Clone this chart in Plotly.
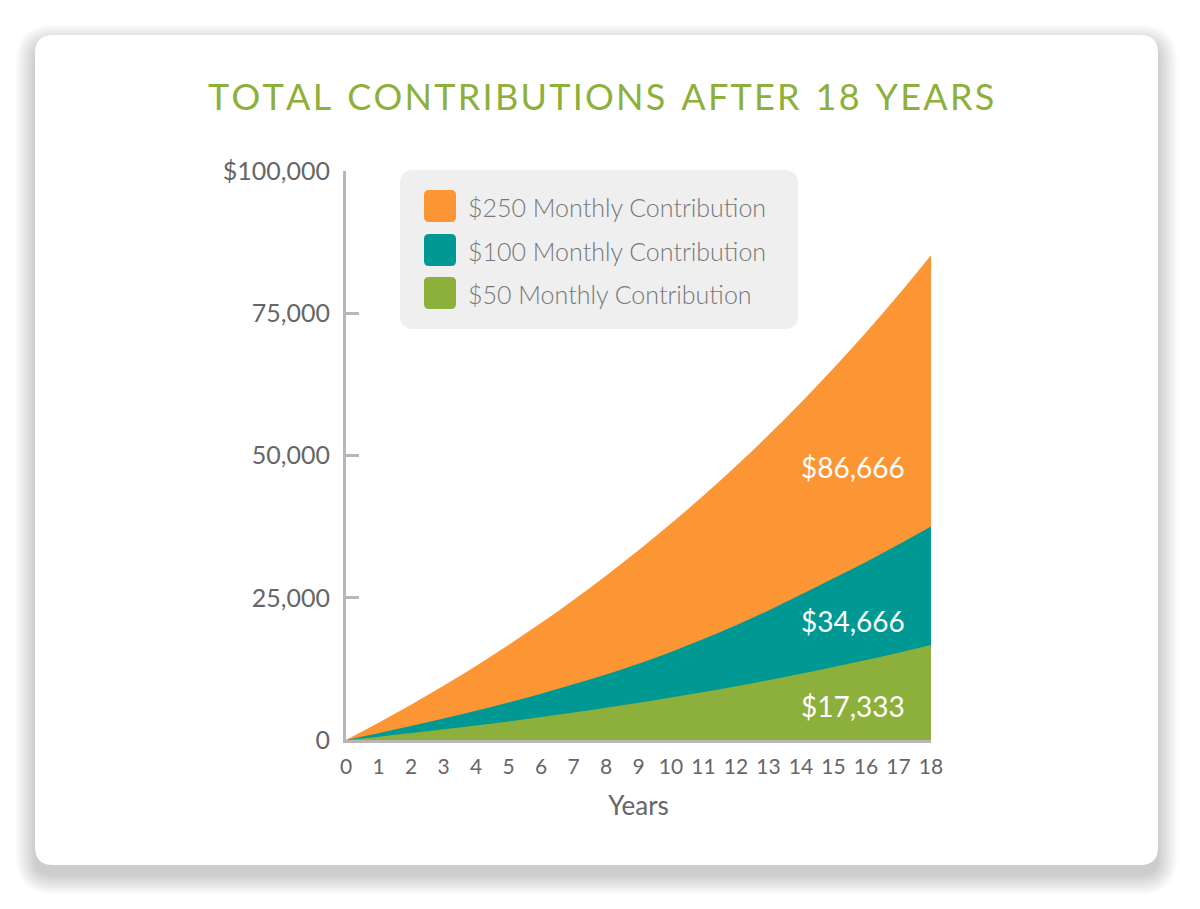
import plotly.graph_objects as go

years = list(range(0, 19))
orange_250 = [0, 3020, 6190, 9520, 13020, 16700, 20560, 24610, 28870, 33340,
              38040, 42970, 48150, 53600, 59320, 65320, 71630, 78250, 85200]
teal_100 = [0, 1190, 2440, 3760, 5140, 6600, 8140, 9780, 11520, 13420,
            15460, 17730, 20160, 22770, 25560, 28410, 31300, 34350, 37510]
green_50 = [0, 590, 1210, 1870, 2550, 3270, 4030, 4830, 5660, 6540,
            7460, 8430, 9440, 10510, 11630, 12810, 14050, 15350, 16710]
series_names = ["$250 Monthly Contribution", "$100 Monthly Contribution", "$50 Monthly Contribution"]
end_labels = ["$86,666", "$34,666", "$17,333"]
end_label_y = [48000, 21000, 6000]
y_tickvals = [0, 25000, 50000, 75000, 100000]
y_ticktext = ["0", "25,000", "50,000", "75,000", "$100,000"]
title_text = "TOTAL CONTRIBUTIONS AFTER 18 YEARS"

ORANGE = "#FC9634"
TEAL = "#009893"
GREEN = "#8DAF3B"
TITLE_GREEN = "#8DB03A"
AXIS_GRAY = "#b7b7b7"
TEXT_GRAY = "#666666"
FONT = "Lato"

W, H = 1200, 909
L, R, T, B = 346, 931, 171, 740  # plot area in px


def px(x):
    return (x - L) / (R - L)


def py(y):
    return (B - y) / (B - T)


def rrect(x0, y0, x1, y1, r):
    pts = [
        f"M{px(x0 + r)},{py(y0)}",
        f"L{px(x1 - r)},{py(y0)}",
        f"Q{px(x1)},{py(y0)} {px(x1)},{py(y0 + r)}",
        f"L{px(x1)},{py(y1 - r)}",
        f"Q{px(x1)},{py(y1)} {px(x1 - r)},{py(y1)}",
        f"L{px(x0 + r)},{py(y1)}",
        f"Q{px(x0)},{py(y1)} {px(x0)},{py(y1 - r)}",
        f"L{px(x0)},{py(y0 + r)}",
        f"Q{px(x0)},{py(y0)} {px(x0 + r)},{py(y0)}",
        "Z",
    ]
    return " ".join(pts)


fig = go.Figure()
for name, vals, col in [(series_names[0], orange_250, ORANGE),
                        (series_names[1], teal_100, TEAL),
                        (series_names[2], green_50, GREEN)]:
    fig.add_trace(go.Scatter(x=years, y=vals, name=name, mode="lines",
                             line=dict(width=0, color=col, shape="spline"),
                             fill="tozeroy", fillcolor=col, showlegend=False,
                             hoverinfo="x+y+name"))

shapes = []
# shadow layers
for i in range(10):
    e = 1 + i * 2.0
    shapes.append(dict(type="path", xref="paper", yref="paper", layer="below",
                       path=rrect(35 - e, 35 - e + 9, 1158 + e, 865 + e + 10, 18 + e),
                       fillcolor="rgba(0,0,0,0.018)", line=dict(width=0)))
# card
shapes.append(dict(type="path", xref="paper", yref="paper", layer="below",
                   path=rrect(35, 35, 1158, 865, 18), fillcolor="white",
                   line=dict(width=0)))
# legend box
shapes.append(dict(type="path", xref="paper", yref="paper", layer="below",
                   path=rrect(400, 170, 798, 329, 14), fillcolor="#efefef",
                   line=dict(width=0)))
leg_y = [206, 250, 293]
for yy, col in zip(leg_y, [ORANGE, TEAL, GREEN]):
    shapes.append(dict(type="path", xref="paper", yref="paper", layer="above",
                       path=rrect(424, yy - 16, 456, yy + 16, 5), fillcolor=col,
                       line=dict(width=0)))

annotations = []
for yy, name in zip(leg_y, series_names):
    annotations.append(dict(x=px(466), y=py(yy + 1), xref="paper", yref="paper",
                            xanchor="left", yanchor="middle", showarrow=False,
                            text=name, font=dict(family=FONT, size=25, color="#777777", weight=300)))
for lab, yv in zip(end_labels, end_label_y):
    annotations.append(dict(x=17.25, y=yv, xref="x", yref="y", xanchor="right",
                            yanchor="middle", showarrow=False, text=lab,
                            font=dict(family=FONT, size=28, color="white")))
spaced = "\u200a".join(list(title_text)).replace(" ", " \u200a")
annotations.append(dict(x=px(601), y=py(96), xref="paper", yref="paper",
                        xanchor="center", yanchor="middle", showarrow=False,
                        text=spaced, font=dict(family=FONT, size=36, color=TITLE_GREEN)))

fig.update_layout(
    width=W, height=H,
    margin=dict(l=L, r=W - R, t=T, b=H - B, pad=0),
    paper_bgcolor="white", plot_bgcolor="rgba(0,0,0,0)",
    shapes=shapes, annotations=annotations, showlegend=False,
    xaxis=dict(range=[0, 18], tickvals=years, ticktext=[str(v) for v in years],
               showgrid=False, zeroline=False, showline=True, linecolor=AXIS_GRAY,
               linewidth=3, ticks="", ticklabelstandoff=6,
               tickfont=dict(family=FONT, size=21, color=TEXT_GRAY),
               title=dict(text="Years", font=dict(family=FONT, size=26, color=TEXT_GRAY), standoff=20),
               fixedrange=True),
    yaxis=dict(range=[0, 100000], tickvals=y_tickvals, ticktext=y_ticktext,
               showgrid=False, zeroline=False, showline=True, linecolor=AXIS_GRAY,
               linewidth=3, ticks="inside", ticklen=13, tickwidth=3, tickcolor=AXIS_GRAY,
               ticklabelstandoff=8,
               tickfont=dict(family=FONT, size=25, color=TEXT_GRAY), fixedrange=True),
)

fig.write_html("out.html")
